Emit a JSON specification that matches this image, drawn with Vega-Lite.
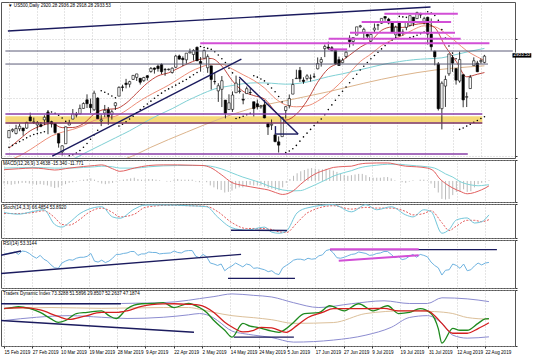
{
"$schema":"https://vega.github.io/schema/vega-lite/v6.json",
"padding":{"left":0,"top":1,"right":4,"bottom":0},
"background":"#ffffff",
"bounds":"flush",
"spacing":2,
"config":{"view":{"stroke":"#555555","strokeWidth":1},"axis":{"labelFont":"Liberation Sans","labelFontSize":4.6,"labelColor":"#000000","tickColor":"#333333","tickSize":2,"labelPadding":1,"labelOverlap":false,"labelBound":false,"gridColor":"#b5b5b5","gridDash":[1,2],"gridWidth":0.7,"domain":false,"zindex":1},"text":{"font":"Liberation Sans","fontSize":4.6,"color":"#000000"}},
"datasets":{
"ohlc":[
{"i":0,"o":2760.2,"h":2775.7,"l":2760.2,"c":2775.6},{"i":1,"o":2775,"h":2780,"l":2772,"c":2778},{"i":2,"o":2769.3,"h":2787.8,"l":2767.3,"c":2779.8},{"i":3,"o":2779.3,"h":2789.9,"l":2774.1,"c":2784.7},{"i":4,"o":2780.7,"h":2781.6,"l":2764.6,"c":2774.9},{"i":5,"o":2780.7,"h":2794.2,"l":2779.1,"c":2792.7},{"i":6,"o":2804.4,"h":2813.5,"l":2795,"c":2796.1},{"i":7,"o":2792.4,"h":2803.1,"l":2789.5,"c":2793.9},{"i":8,"o":2787.5,"h":2795.8,"l":2775.1,"c":2792.4},{"i":9,"o":2788.1,"h":2793.7,"l":2782.5,"c":2784.5},
{"i":10,"o":2798.2,"h":2808,"l":2787.4,"c":2803.7},{"i":11,"o":2814.4,"h":2816.9,"l":2767.7,"c":2792.8},{"i":12,"o":2794.4,"h":2796.4,"l":2782,"c":2789.7},{"i":13,"o":2790.3,"h":2790.3,"l":2768.7,"c":2771.5},{"i":14,"o":2768.7,"h":2769,"l":2739.2,"c":2748.9},{"i":15,"o":2730,"h":2744.1,"l":2722.3,"c":2743.1},{"i":16,"o":2747.6,"h":2784,"l":2747.6,"c":2783.3},{"i":17,"o":2787.3,"h":2798.3,"l":2786.7,"c":2791.5},{"i":18,"o":2799.8,"h":2821.2,"l":2799.8,"c":2810.9},{"i":19,"o":2810.4,"h":2815,"l":2803.5,"c":2808.5},
{"i":20,"o":2810.8,"h":2830.7,"l":2810.8,"c":2822.5},{"i":21,"o":2822.6,"h":2835.4,"l":2822,"c":2832.9},{"i":22,"o":2840.8,"h":2852.4,"l":2823.3,"c":2832.6},{"i":23,"o":2831.3,"h":2843.5,"l":2812.6,"c":2824.2},{"i":24,"o":2819.7,"h":2860.3,"l":2817.4,"c":2854.9},{"i":25,"o":2844.5,"h":2846.2,"l":2800.5,"c":2800.7},{"i":26,"o":2796,"h":2809.8,"l":2785,"c":2798.4},{"i":27,"o":2812.7,"h":2829.9,"l":2804,"c":2818.5},{"i":28,"o":2819.7,"h":2825.6,"l":2787.7,"c":2805.4},{"i":29,"o":2809.4,"h":2819.7,"l":2798.8,"c":2815.4},
{"i":30,"o":2828.3,"h":2836,"l":2819.2,"c":2834.4},{"i":31,"o":2848.6,"h":2869.4,"l":2848.6,"c":2867.2},{"i":32,"o":2868.2,"h":2872.9,"l":2858.8,"c":2867.2},{"i":33,"o":2876.1,"h":2885.3,"l":2865.2,"c":2873.4},{"i":34,"o":2874,"h":2881.3,"l":2867.1,"c":2879.4},{"i":35,"o":2884.2,"h":2893.2,"l":2883,"c":2892.7},{"i":36,"o":2888.5,"h":2896,"l":2880.8,"c":2895.8},{"i":37,"o":2886.6,"h":2886.9,"l":2873.3,"c":2878.2},{"i":38,"o":2881.4,"h":2889.7,"l":2879.1,"c":2888.2},{"i":39,"o":2891.9,"h":2893.4,"l":2882,"c":2888.3},
{"i":40,"o":2900.9,"h":2910.5,"l":2898.4,"c":2907.4},{"i":41,"o":2908.3,"h":2909.6,"l":2896.5,"c":2905.6},{"i":42,"o":2912.3,"h":2916.1,"l":2900.7,"c":2907.1},{"i":43,"o":2916,"h":2918,"l":2895.5,"c":2900.5},{"i":44,"o":2904.8,"h":2908.4,"l":2891.9,"c":2905},{"i":45,"o":2905,"h":2907,"l":2903,"c":2906},{"i":46,"o":2898.8,"h":2909.5,"l":2896.4,"c":2908},{"i":47,"o":2910,"h":2936.3,"l":2908.5,"c":2933.7},{"i":48,"o":2934,"h":2936.8,"l":2926.1,"c":2927.3},{"i":49,"o":2929,"h":2933.1,"l":2912.8,"c":2926.2},
{"i":50,"o":2925.8,"h":2939.9,"l":2917.6,"c":2939.9},{"i":51,"o":2940.6,"h":2949.5,"l":2939.4,"c":2943},{"i":52,"o":2937.1,"h":2948.2,"l":2924.1,"c":2945.8},{"i":53,"o":2952.3,"h":2954.1,"l":2923.4,"c":2923.7},{"i":54,"o":2922.2,"h":2931.7,"l":2900.5,"c":2917.5},{"i":55,"o":2929.2,"h":2947.9,"l":2929.2,"c":2945.6},{"i":56,"o":2908.9,"h":2937.3,"l":2898.2,"c":2932.5},{"i":57,"o":2913,"h":2913,"l":2862.6,"c":2884.1},{"i":58,"o":2879.6,"h":2898,"l":2873.3,"c":2879.4},{"i":59,"o":2859.8,"h":2876,"l":2836.4,"c":2870.7},
{"i":60,"o":2863.1,"h":2891.3,"l":2825.4,"c":2881.4},{"i":61,"o":2840.2,"h":2840.2,"l":2801.4,"c":2811.9},{"i":62,"o":2820.1,"h":2852.5,"l":2820.1,"c":2834.4},{"i":63,"o":2820.4,"h":2858.7,"l":2815.1,"c":2851},{"i":64,"o":2855.8,"h":2892.2,"l":2855.8,"c":2876.3},{"i":65,"o":2858.6,"h":2885.5,"l":2854.2,"c":2859.5},{"i":66,"o":2841.9,"h":2853.9,"l":2831.3,"c":2840.2},{"i":67,"o":2854,"h":2868.9,"l":2854,"c":2864.4},{"i":68,"o":2856.1,"h":2865.5,"l":2851.1,"c":2856.3},{"i":69,"o":2836.7,"h":2836.7,"l":2805.5,"c":2822.2},
{"i":70,"o":2832.4,"h":2841.4,"l":2820.2,"c":2826.1},{"i":71,"o":2826,"h":2830,"l":2822,"c":2828},{"i":72,"o":2830,"h":2840.5,"l":2801.6,"c":2802.4},{"i":73,"o":2790.3,"h":2792,"l":2766.1,"c":2783},{"i":74,"o":2786.9,"h":2799,"l":2776.7,"c":2788.9},{"i":75,"o":2766.2,"h":2769,"l":2750.5,"c":2752.1},{"i":76,"o":2751.5,"h":2763.1,"l":2728.8,"c":2744.5},{"i":77,"o":2762.6,"h":2804.5,"l":2762.6,"c":2803.3},{"i":78,"o":2818.1,"h":2827.3,"l":2800.9,"c":2826.2},{"i":79,"o":2828.5,"h":2852.1,"l":2822.5,"c":2843.5},
{"i":80,"o":2852.9,"h":2885,"l":2852.9,"c":2873.3},{"i":81,"o":2885.8,"h":2904.8,"l":2885.5,"c":2886.7},{"i":82,"o":2903.3,"h":2910.6,"l":2878.5,"c":2885.7},{"i":83,"o":2882.7,"h":2888.6,"l":2874.7,"c":2879.8},{"i":84,"o":2886.2,"h":2895.2,"l":2882,"c":2891.6},{"i":85,"o":2886.8,"h":2894.5,"l":2879.6,"c":2887},{"i":86,"o":2889.8,"h":2897.3,"l":2887.3,"c":2889.7},{"i":87,"o":2906.7,"h":2930.8,"l":2905.4,"c":2917.8},{"i":88,"o":2920.6,"h":2931.7,"l":2911.4,"c":2926.5},{"i":89,"o":2949.6,"h":2958.1,"l":2931.5,"c":2954.2},
{"i":90,"o":2952.7,"h":2964.2,"l":2946.9,"c":2950.5},{"i":91,"o":2951.4,"h":2954.9,"l":2944.1,"c":2945.4},{"i":92,"o":2945.8,"h":2946.5,"l":2916,"c":2917.4},{"i":93,"o":2926.1,"h":2932.6,"l":2913,"c":2913.8},{"i":94,"o":2919.7,"h":2929.3,"l":2918.6,"c":2924.9},{"i":95,"o":2932.9,"h":2944,"l":2929.1,"c":2941.8},{"i":96,"o":2971.4,"h":2977.9,"l":2952.2,"c":2964.3},{"i":97,"o":2964.7,"h":2973.2,"l":2955.9,"c":2973},{"i":98,"o":2978.1,"h":2995.8,"l":2978,"c":2995.8},{"i":99,"o":2996,"h":3000,"l":2994,"c":2998},
{"i":100,"o":2984.3,"h":2994,"l":2968,"c":2990.4},{"i":101,"o":2979.8,"h":2980.8,"l":2970.1,"c":2976},{"i":102,"o":2965.5,"h":2981.9,"l":2963.4,"c":2979.6},{"i":103,"o":2989.3,"h":3003,"l":2984.6,"c":2993.1},{"i":104,"o":2999.6,"h":3002.3,"l":2988.8,"c":2999.9},{"i":105,"o":3003.4,"h":3013.9,"l":3001.9,"c":3013.8},{"i":106,"o":3017.8,"h":3017.8,"l":3008.8,"c":3014.3},{"i":107,"o":3012.1,"h":3015,"l":3001.2,"c":3004},{"i":108,"o":3005.1,"h":3005.3,"l":2984.3,"c":2984.4},{"i":109,"o":2978.9,"h":2998.3,"l":2973.1,"c":2995.1},
{"i":110,"o":3004.3,"h":3006.5,"l":2975.9,"c":2976.6},{"i":111,"o":2981.9,"h":2990.7,"l":2976.7,"c":2985},{"i":112,"o":2994.7,"h":3005.9,"l":2988.6,"c":3005.5},{"i":113,"o":2998.8,"h":3019.6,"l":2996.8,"c":3019.6},{"i":114,"o":3016.3,"h":3016.3,"l":2997.2,"c":3003.7},{"i":115,"o":3013.3,"h":3028,"l":3012.6,"c":3025.9},{"i":116,"o":3024.5,"h":3025.6,"l":3014.3,"c":3021},{"i":117,"o":3007.7,"h":3017.2,"l":3000.9,"c":3013.2},{"i":118,"o":3016.2,"h":3017.4,"l":2958.1,"c":2980.4},{"i":119,"o":2980.3,"h":3013.6,"l":2945.2,"c":2953.6},
{"i":120,"o":2943.9,"h":2945.5,"l":2914.1,"c":2932},{"i":121,"o":2917,"h":2921,"l":2818,"c":2822},{"i":122,"o":2822,"h":2880,"l":2778,"c":2876},{"i":123,"o":2870,"h":2892.2,"l":2825.7,"c":2884},{"i":124,"o":2896.2,"h":2938.7,"l":2891.7,"c":2938.1},{"i":125,"o":2930.5,"h":2935.8,"l":2900.2,"c":2918.7},{"i":126,"o":2907.1,"h":2907.6,"l":2873.1,"c":2882.7},{"i":127,"o":2880.7,"h":2943.3,"l":2877.1,"c":2926.3},{"i":128,"o":2894.2,"h":2894.2,"l":2825,"c":2840.6},{"i":129,"o":2846.2,"h":2856.7,"l":2825.5,"c":2847.6},
{"i":130,"o":2864.7,"h":2893.6,"l":2864.7,"c":2888.7},{"i":131,"o":2913.5,"h":2931,"l":2913.5,"c":2923.7},{"i":132,"o":2919,"h":2923.6,"l":2899.6,"c":2900.5},{"i":133,"o":2922,"h":2928.7,"l":2917.9,"c":2924.4},{"i":134,"o":2920.3,"h":2936.3,"l":2918.3,"c":2933.5}
],
"ma":[
{"k":"f","i":0,"v":2738},{"k":"f","i":3,"v":2757},{"k":"f","i":6,"v":2775},{"k":"f","i":9,"v":2785.3},{"k":"f","i":12,"v":2790.5},{"k":"f","i":15,"v":2781.7},{"k":"f","i":18,"v":2782},{"k":"f","i":21,"v":2790.3},{"k":"f","i":24,"v":2810.4},{"k":"f","i":27,"v":2820.4},{"k":"f","i":30,"v":2821.7},{"k":"f","i":33,"v":2833.6},{"k":"f","i":36,"v":2855},{"k":"f","i":39,"v":2876.5},{"k":"f","i":42,"v":2891.6},{"k":"f","i":45,"v":2898.2},{"k":"f","i":48,"v":2908.9},{"k":"f","i":51,"v":2919.7},{"k":"f","i":54,"v":2927.1},{"k":"f","i":57,"v":2928.6},{"k":"f","i":60,"v":2912.4},{"k":"f","i":63,"v":2880.9},{"k":"f","i":66,"v":2858.9},{"k":"f","i":69,"v":2849.8},{"k":"f","i":72,"v":2842.6},{"k":"f","i":75,"v":2816.4},{"k":"f","i":78,"v":2797.7},{"k":"f","i":81,"v":2810.4},{"k":"f","i":84,"v":2838.7},{"k":"f","i":87,"v":2878.1},{"k":"f","i":90,"v":2907},{"k":"f","i":93,"v":2919.4},{"k":"f","i":96,"v":2935.7},{"k":"f","i":99,"v":2952.5},{"k":"f","i":102,"v":2965.8},{"k":"f","i":105,"v":2988.4},{"k":"f","i":108,"v":2995.4},{"k":"f","i":111,"v":2994.6},{"k":"f","i":114,"v":3000.2},{"k":"f","i":117,"v":3003},{"k":"f","i":120,"v":2994},{"k":"f","i":123,"v":2954},{"k":"f","i":126,"v":2922.9},{"k":"f","i":129,"v":2889.7},{"k":"f","i":132,"v":2895.1},{"k":"f","i":134,"v":2898.7},
{"k":"d","i":0,"v":2712},{"k":"d","i":3,"v":2722},{"k":"d","i":6,"v":2735},{"k":"d","i":9,"v":2750},{"k":"d","i":12,"v":2764},{"k":"d","i":15,"v":2772},{"k":"d","i":18,"v":2778},{"k":"d","i":21,"v":2786},{"k":"d","i":24,"v":2797},{"k":"d","i":27,"v":2802},{"k":"d","i":30,"v":2806},{"k":"d","i":33,"v":2818},{"k":"d","i":36,"v":2834},{"k":"d","i":39,"v":2848},{"k":"d","i":42,"v":2860},{"k":"d","i":45,"v":2872},{"k":"d","i":48,"v":2886},{"k":"d","i":51,"v":2900},{"k":"d","i":54,"v":2910},{"k":"d","i":57,"v":2916},{"k":"d","i":60,"v":2916},{"k":"d","i":63,"v":2906},{"k":"d","i":66,"v":2894},{"k":"d","i":69,"v":2882},{"k":"d","i":72,"v":2866},{"k":"d","i":75,"v":2844},{"k":"d","i":78,"v":2830},{"k":"d","i":81,"v":2826},{"k":"d","i":84,"v":2828},{"k":"d","i":87,"v":2838},{"k":"d","i":90,"v":2854},{"k":"d","i":93,"v":2874},{"k":"d","i":96,"v":2898},{"k":"d","i":99,"v":2922},{"k":"d","i":102,"v":2938},{"k":"d","i":105,"v":2956},{"k":"d","i":108,"v":2968},{"k":"d","i":111,"v":2978},{"k":"d","i":114,"v":2990},{"k":"d","i":117,"v":2998},{"k":"d","i":120,"v":2996},{"k":"d","i":123,"v":2982},{"k":"d","i":126,"v":2964},{"k":"d","i":129,"v":2945},{"k":"d","i":132,"v":2932},{"k":"d","i":134,"v":2924},
{"k":"c","i":0,"v":2690},{"k":"c","i":6,"v":2697},{"k":"c","i":12,"v":2705},{"k":"c","i":18,"v":2715},{"k":"c","i":22,"v":2730},{"k":"c","i":26,"v":2745},{"k":"c","i":30,"v":2760},{"k":"c","i":34,"v":2775},{"k":"c","i":38,"v":2792},{"k":"c","i":42,"v":2808},{"k":"c","i":46,"v":2822},{"k":"c","i":50,"v":2838},{"k":"c","i":54,"v":2852},{"k":"c","i":58,"v":2864},{"k":"c","i":62,"v":2870},{"k":"c","i":66,"v":2875},{"k":"c","i":70,"v":2877},{"k":"c","i":74,"v":2876},{"k":"c","i":78,"v":2874},{"k":"c","i":82,"v":2876},{"k":"c","i":86,"v":2882},{"k":"c","i":90,"v":2890},{"k":"c","i":94,"v":2896},{"k":"c","i":98,"v":2903},{"k":"c","i":102,"v":2910},{"k":"c","i":106,"v":2917},{"k":"c","i":110,"v":2922},{"k":"c","i":114,"v":2926},{"k":"c","i":118,"v":2928},{"k":"c","i":122,"v":2930},{"k":"c","i":126,"v":2937},{"k":"c","i":130,"v":2944},{"k":"c","i":134,"v":2950},
{"k":"L","i":0,"v":2640},{"k":"L","i":10,"v":2660},{"k":"L","i":20,"v":2685},{"k":"L","i":30,"v":2708},{"k":"L","i":35,"v":2722},{"k":"L","i":40,"v":2740},{"k":"L","i":50,"v":2772},{"k":"L","i":60,"v":2802},{"k":"L","i":70,"v":2826},{"k":"L","i":80,"v":2842},{"k":"L","i":90,"v":2858},{"k":"L","i":100,"v":2876},{"k":"L","i":110,"v":2892},{"k":"L","i":120,"v":2904},{"k":"L","i":130,"v":2911},{"k":"L","i":134,"v":2913}
],
"sar":[
{"i":0,"v":2740},{"i":1,"v":2744},{"i":2,"v":2748},{"i":3,"v":2752},{"i":4,"v":2756},{"i":5,"v":2760},{"i":6,"v":2764},{"i":7,"v":2767},{"i":8,"v":2769},{"i":9,"v":2771},{"i":10,"v":2773},
{"i":11,"v":2817},{"i":12,"v":2815},{"i":13,"v":2812},{"i":14,"v":2808},{"i":15,"v":2802},{"i":16,"v":2795},
{"i":17,"v":2722},{"i":18,"v":2724},{"i":19,"v":2728},{"i":20,"v":2733},{"i":21,"v":2740},{"i":22,"v":2748},{"i":23,"v":2757},{"i":24,"v":2766},{"i":25,"v":2776},
{"i":26,"v":2860},{"i":27,"v":2857},{"i":28,"v":2853},{"i":29,"v":2849},{"i":30,"v":2845},
{"i":31,"v":2785},{"i":32,"v":2789},{"i":33,"v":2794},{"i":34,"v":2800},{"i":35,"v":2806},{"i":36,"v":2813},{"i":37,"v":2820},{"i":38,"v":2826},{"i":39,"v":2832},{"i":40,"v":2838},{"i":41,"v":2844},{"i":42,"v":2850},{"i":43,"v":2855},{"i":44,"v":2860},{"i":45,"v":2864},{"i":46,"v":2868},{"i":47,"v":2872},{"i":48,"v":2876},{"i":49,"v":2880},{"i":50,"v":2884},{"i":51,"v":2889},{"i":52,"v":2894},{"i":53,"v":2899},
{"i":54,"v":2954},{"i":55,"v":2952},{"i":56,"v":2950},{"i":57,"v":2948},{"i":58,"v":2943},{"i":59,"v":2936},{"i":60,"v":2928},{"i":61,"v":2920},{"i":62,"v":2908},{"i":63,"v":2898},
{"i":64,"v":2801},{"i":65,"v":2803},{"i":66,"v":2806},{"i":67,"v":2809},{"i":68,"v":2812},
{"i":69,"v":2892},{"i":70,"v":2889},{"i":71,"v":2885},{"i":72,"v":2881},{"i":73,"v":2874},{"i":74,"v":2866},{"i":75,"v":2858},{"i":76,"v":2848},{"i":77,"v":2836},
{"i":78,"v":2729},{"i":79,"v":2732},{"i":80,"v":2737},{"i":81,"v":2744},{"i":82,"v":2753},{"i":83,"v":2762},{"i":84,"v":2770},{"i":85,"v":2778},{"i":86,"v":2786},{"i":87,"v":2793},{"i":88,"v":2800},{"i":89,"v":2809},{"i":90,"v":2820},{"i":91,"v":2830},{"i":92,"v":2840},{"i":93,"v":2850},{"i":94,"v":2859},{"i":95,"v":2868},{"i":96,"v":2877},{"i":97,"v":2886},{"i":98,"v":2895},{"i":99,"v":2904},{"i":100,"v":2912},{"i":101,"v":2920},{"i":102,"v":2928},{"i":103,"v":2935},{"i":104,"v":2942},{"i":105,"v":2949},{"i":106,"v":2956},{"i":107,"v":2962},{"i":108,"v":2968},{"i":109,"v":2973},
{"i":110,"v":3018},{"i":111,"v":3017},{"i":112,"v":3016},
{"i":113,"v":2973},{"i":114,"v":2975},{"i":115,"v":2978},{"i":116,"v":2981},{"i":117,"v":2985},
{"i":118,"v":3028},{"i":119,"v":3025},{"i":120,"v":3020},{"i":121,"v":3010},{"i":122,"v":2990},{"i":123,"v":2972},{"i":124,"v":2955},{"i":125,"v":2940},{"i":126,"v":2928},
{"i":127,"v":2778},{"i":128,"v":2781},{"i":129,"v":2785},{"i":130,"v":2789},{"i":131,"v":2793},{"i":132,"v":2797},{"i":133,"v":2801},{"i":134,"v":2805}
],
"band":[{"i":-1,"b":133.4,"p0":2793,"p1":2806}],
"seg":[
{"pn":"m","g":"tl1","t":"navy","i":-0.3,"v":2987},{"pn":"m","g":"tl1","t":"navy","i":118.8,"v":3038},
{"pn":"m","g":"tl2","t":"navy","i":12.2,"v":2721.4},{"pn":"m","g":"tl2","t":"navy","i":65.5,"v":2927.5},
{"pn":"m","g":"tl3","t":"navy","i":64.9,"v":2889.2},{"pn":"m","g":"tl3","t":"navy","i":81.5,"v":2768.1},
{"pn":"m","g":"tl4","t":"navy","i":75.1,"v":2768.1},{"pn":"m","g":"tl4","t":"navy","i":81.5,"v":2768.1},
{"pn":"m","g":"tl5","t":"navy","i":75.1,"v":2785},{"pn":"m","g":"tl5","t":"navy","i":75.1,"v":2768.1},
{"pn":"m","g":"h1","t":"gray","i":-1,"v":2944.5},{"pn":"m","g":"h1","t":"gray","i":142,"v":2944.5},
{"pn":"m","g":"h2","t":"gray","i":-1,"v":2916.8},{"pn":"m","g":"h2","t":"gray","i":135,"v":2916.8},
{"pn":"m","g":"p1","t":"purple","i":-1,"v":2810.6},{"pn":"m","g":"p1","t":"purple","i":133.4,"v":2810.6},
{"pn":"m","g":"p2","t":"dpurple","i":-1,"v":2791.5},{"pn":"m","g":"p2","t":"dpurple","i":133.4,"v":2791.5},
{"pn":"m","g":"p3","t":"purple","i":-1,"v":2725.6},{"pn":"m","g":"p3","t":"purple","i":129.3,"v":2725.6},
{"pn":"m","g":"m1","t":"magenta","i":105.8,"v":3023.8},{"pn":"m","g":"m1","t":"magenta","i":126.5,"v":3023.8},
{"pn":"m","g":"m2","t":"magenta","i":99.4,"v":3006},{"pn":"m","g":"m2","t":"magenta","i":124.6,"v":3006},
{"pn":"m","g":"m3","t":"magenta","i":96.1,"v":2983.4},{"pn":"m","g":"m3","t":"magenta","i":125.7,"v":2983.4},
{"pn":"m","g":"m4","t":"magenta","i":90.1,"v":2970.6},{"pn":"m","g":"m4","t":"magenta","i":127.3,"v":2970.6},
{"pn":"m","g":"m5","t":"magenta","i":53.9,"v":2960.8},{"pn":"m","g":"m5","t":"magenta","i":135.4,"v":2960.8},
{"pn":"m","g":"m6","t":"magenta","i":90.1,"v":2948},{"pn":"m","g":"m6","t":"magenta","i":95.3,"v":2948},
{"pn":"s","g":"s1","t":"navy","i":62.7,"v":23},{"pn":"s","g":"s1","t":"navy","i":78.2,"v":22},
{"pn":"r","g":"r1","t":"navy","i":-1,"v":68},{"pn":"r","g":"r1","t":"navy","i":4.7,"v":77},
{"pn":"r","g":"r2","t":"navy","i":-1,"v":30},{"pn":"r","g":"r2","t":"navy","i":65.5,"v":70},
{"pn":"r","g":"r3","t":"navy","i":61.9,"v":20},{"pn":"r","g":"r3","t":"navy","i":80.4,"v":20},
{"pn":"r","g":"r4","t":"navy","i":90.1,"v":80},{"pn":"r","g":"r4","t":"navy","i":136.2,"v":80},
{"pn":"r","g":"r5","t":"magenta","i":90.1,"v":80.6},{"pn":"r","g":"r5","t":"magenta","i":114.6,"v":80.6},
{"pn":"r","g":"r6","t":"magenta","i":92.5,"v":57},{"pn":"r","g":"r6","t":"magenta","i":114.6,"v":68},
{"pn":"t","g":"t1","t":"navy","i":-1,"v":70.7},{"pn":"t","g":"t1","t":"navy","i":32.3,"v":70.7},
{"pn":"t","g":"t2","t":"navy","i":-1,"v":50},{"pn":"t","g":"t2","t":"navy","i":52.5,"v":35.5},
{"pn":"t","g":"t3","t":"navy","i":63.5,"v":29.5},{"pn":"t","g":"t3","t":"navy","i":80.1,"v":29.5}
],
"ylab":[
{"pn":"m","b":"middle","v":3033.7,"t":"3033.70"},{"pn":"m","b":"middle","v":3002.2,"t":"3002.20"},{"pn":"m","b":"middle","v":2970.7,"t":"2970.70"},{"pn":"m","b":"middle","v":2939.55,"t":"2939.55"},{"pn":"m","b":"middle","v":2908.6,"t":"2908.60"},{"pn":"m","b":"middle","v":2877.1,"t":"2877.10"},{"pn":"m","b":"middle","v":2845.6,"t":"2845.60"},{"pn":"m","b":"middle","v":2815,"t":"2815.00"},{"pn":"m","b":"middle","v":2783.5,"t":"2783.50"},{"pn":"m","b":"middle","v":2752,"t":"2752.00"},{"pn":"m","b":"middle","v":2721.4,"t":"2721.40"},
{"pn":"a","b":"top","v":65.2,"t":"65.2"},{"pn":"a","b":"middle","v":0,"t":"0.00"},{"pn":"a","b":"bottom","v":-65.538,"t":"-65.538"},
{"pn":"s","b":"top","v":100,"t":"100"},{"pn":"s","b":"middle","v":80,"t":"80"},{"pn":"s","b":"middle","v":20,"t":"20"},{"pn":"s","b":"bottom","v":0,"t":"0"},
{"pn":"r","b":"top","v":100,"t":"100"},{"pn":"r","b":"middle","v":70,"t":"70"},{"pn":"r","b":"middle","v":30,"t":"30"},{"pn":"r","b":"bottom","v":0,"t":"0"},
{"pn":"t","b":"top","v":87.6204,"t":"87.6204"},{"pn":"t","b":"middle","v":68,"t":"68"},{"pn":"t","b":"middle","v":50,"t":"50"},{"pn":"t","b":"middle","v":32,"t":"32"},{"pn":"t","b":"bottom","v":18.5974,"t":"18.5974"}
],
"hist":[
{"i":0,"h":-8},{"i":1,"h":-10},{"i":2,"h":-12},{"i":3,"h":-10},{"i":4,"h":-8},{"i":5,"h":-6},{"i":6,"h":-6},{"i":7,"h":-8},{"i":8,"h":-10},{"i":9,"h":-12},{"i":10,"h":-10},
{"i":11,"h":-12},{"i":12,"h":-14},{"i":13,"h":-18},{"i":14,"h":-22},{"i":15,"h":-20},{"i":16,"h":-14},{"i":17,"h":-10},{"i":18,"h":-6},{"i":19,"h":-4},{"i":20,"h":-2},
{"i":21,"h":2},{"i":22,"h":4},{"i":23,"h":6},{"i":24,"h":8},{"i":25,"h":4},{"i":26,"h":-4},{"i":27,"h":-8},{"i":28,"h":-10},{"i":29,"h":-8},{"i":30,"h":-6},
{"i":31,"h":-2},{"i":32,"h":2},{"i":33,"h":4},{"i":34,"h":6},{"i":35,"h":8},{"i":36,"h":10},{"i":37,"h":6},{"i":38,"h":4},{"i":39,"h":4},{"i":40,"h":6},
{"i":41,"h":6},{"i":42,"h":4},{"i":43,"h":2},{"i":44,"h":0},{"i":45,"h":-2},{"i":46,"h":-2},{"i":47,"h":4},{"i":48,"h":6},{"i":49,"h":4},{"i":50,"h":4},
{"i":51,"h":4},{"i":52,"h":4},{"i":53,"h":-2},{"i":54,"h":-4},{"i":55,"h":0},{"i":56,"h":-4},{"i":57,"h":-14},{"i":58,"h":-20},{"i":59,"h":-26},{"i":60,"h":-28},
{"i":61,"h":-36},{"i":62,"h":-34},{"i":63,"h":-30},{"i":64,"h":-24},{"i":65,"h":-20},{"i":66,"h":-20},{"i":67,"h":-16},{"i":68,"h":-12},{"i":69,"h":-14},{"i":70,"h":-14},
{"i":71,"h":-14},{"i":72,"h":-18},{"i":73,"h":-22},{"i":74,"h":-24},{"i":75,"h":-28},{"i":76,"h":-30},{"i":77,"h":-20},{"i":78,"h":-6},{"i":79,"h":6},{"i":80,"h":16},
{"i":81,"h":24},{"i":82,"h":30},{"i":83,"h":34},{"i":84,"h":38},{"i":85,"h":40},{"i":86,"h":38},{"i":87,"h":36},{"i":88,"h":36},{"i":89,"h":38},{"i":90,"h":36},
{"i":91,"h":32},{"i":92,"h":28},{"i":93,"h":22},{"i":94,"h":18},{"i":95,"h":16},{"i":96,"h":18},{"i":97,"h":20},{"i":98,"h":22},{"i":99,"h":22},{"i":100,"h":18},
{"i":101,"h":12},{"i":102,"h":10},{"i":103,"h":10},{"i":104,"h":10},{"i":105,"h":12},{"i":106,"h":12},{"i":107,"h":8},{"i":108,"h":2},{"i":109,"h":0},{"i":110,"h":-4},
{"i":111,"h":-6},{"i":112,"h":-2},{"i":113,"h":2},{"i":114,"h":0},{"i":115,"h":4},{"i":116,"h":4},{"i":117,"h":2},{"i":118,"h":-8},{"i":119,"h":-22},{"i":120,"h":-36},
{"i":121,"h":-56},{"i":122,"h":-58},{"i":123,"h":-56},{"i":124,"h":-44},{"i":125,"h":-34},{"i":126,"h":-34},{"i":127,"h":-26},{"i":128,"h":-34},{"i":129,"h":-32},{"i":130,"h":-20},
{"i":131,"h":-10},{"i":132,"h":-6},{"i":133,"h":-2},{"i":134,"h":2}
],
"macd":[
{"i":0,"m":35,"s":40},{"i":4,"m":38,"s":41},{"i":8,"m":40,"s":42},{"i":11,"m":38,"s":41},{"i":14,"m":34,"s":40},{"i":18,"m":40,"s":40},{"i":22,"m":45,"s":42},{"i":25,"m":48,"s":44},{"i":27,"m":50,"s":46},{"i":30,"m":38,"s":44},{"i":32,"m":30,"s":40},{"i":36,"m":40,"s":40},{"i":40,"m":48,"s":44},{"i":44,"m":50,"s":47},{"i":48,"m":50,"s":48},{"i":52,"m":49,"s":48},{"i":55,"m":48,"s":48},{"i":57,"m":42,"s":46},{"i":60,"m":20,"s":38},{"i":63,"m":-5,"s":25},{"i":66,"m":-14,"s":12},{"i":68,"m":-18,"s":5},{"i":71,"m":-24,"s":-6},{"i":73,"m":-28,"s":-15},{"i":75,"m":-36,"s":-22},{"i":77,"m":-42,"s":-28},{"i":80,"m":-30,"s":-31},{"i":82,"m":-10,"s":-30},{"i":84,"m":8,"s":-22},{"i":86,"m":22,"s":-12},{"i":89,"m":35,"s":4},{"i":91,"m":42,"s":15},{"i":94,"m":45,"s":26},{"i":96,"m":46,"s":32},{"i":98,"m":52,"s":40},{"i":100,"m":55,"s":45},{"i":103,"m":56,"s":49},{"i":106,"m":56,"s":52},{"i":109,"m":50,"s":52},{"i":111,"m":46,"s":50},{"i":114,"m":44,"s":47},{"i":117,"m":40,"s":44},{"i":119,"m":28,"s":40},{"i":120,"m":12,"s":35},{"i":122,"m":-8,"s":22},{"i":124,"m":-22,"s":12},{"i":126,"m":-32,"s":-2},{"i":128,"m":-40,"s":-10},{"i":130,"m":-36,"s":-14},{"i":131,"m":-32,"s":-15},{"i":133,"m":-22,"s":-13},{"i":134,"m":-15.3,"s":-11.8}
],
"stoch":[
{"i":0,"k":75,"d":72},{"i":4,"k":70,"d":72},{"i":8,"k":78,"d":75},{"i":11,"k":83,"d":80},{"i":14,"k":40,"d":60},{"i":16,"k":32,"d":40},{"i":18,"k":45,"d":38},{"i":21,"k":72,"d":55},{"i":23,"k":83,"d":72},{"i":27,"k":92,"d":88},{"i":30,"k":62,"d":75},{"i":32,"k":58,"d":62},{"i":36,"k":85,"d":70},{"i":39,"k":97,"d":90},{"i":45,"k":97,"d":96},{"i":51,"k":95,"d":95},{"i":56,"k":92,"d":93},{"i":59,"k":62,"d":78},{"i":63,"k":30,"d":45},{"i":67,"k":23,"d":28},{"i":72,"k":32,"d":28},{"i":74,"k":17,"d":25},{"i":76,"k":14,"d":18},{"i":78,"k":20,"d":16},{"i":81,"k":74,"d":45},{"i":84,"k":89,"d":75},{"i":91,"k":98,"d":95},{"i":96,"k":77,"d":85},{"i":100,"k":98,"d":90},{"i":103,"k":83,"d":88},{"i":107,"k":92,"d":88},{"i":111,"k":68,"d":78},{"i":113,"k":62,"d":68},{"i":116,"k":83,"d":72},{"i":118,"k":78,"d":80},{"i":121,"k":14,"d":45},{"i":123,"k":25,"d":22},{"i":125,"k":53,"d":35},{"i":128,"k":59,"d":52},{"i":130,"k":44,"d":52},{"i":132,"k":48,"d":48},{"i":134,"k":68,"d":54}
],
"rsi":[
{"i":0,"v":70},{"i":1,"v":72},{"i":2,"v":73},{"i":3,"v":75},{"i":4,"v":70},{"i":5,"v":77},{"i":6,"v":76},{"i":7,"v":72},{"i":8,"v":66},{"i":9,"v":62},{"i":10,"v":68},{"i":11,"v":60},{"i":12,"v":56},{"i":13,"v":48},{"i":14,"v":42},{"i":15,"v":41},{"i":16,"v":52},{"i":17,"v":56},{"i":18,"v":59},{"i":19,"v":58},{"i":20,"v":62},{"i":21,"v":64},{"i":22,"v":64},{"i":23,"v":66},{"i":24,"v":72},{"i":25,"v":56},{"i":26,"v":54},{"i":27,"v":58},{"i":28,"v":53},{"i":29,"v":56},{"i":30,"v":62},{"i":31,"v":70},{"i":32,"v":70},{"i":33,"v":72},{"i":34,"v":73},{"i":35,"v":76},{"i":36,"v":76},{"i":37,"v":68},{"i":38,"v":71},{"i":39,"v":71},{"i":40,"v":75},{"i":41,"v":74},{"i":42,"v":74},{"i":43,"v":71},{"i":44,"v":72},{"i":46,"v":73},{"i":47,"v":77},{"i":48,"v":74},{"i":49,"v":73},{"i":50,"v":77},{"i":51,"v":78},{"i":52,"v":78},{"i":53,"v":66},{"i":54,"v":63},{"i":55,"v":70},{"i":56,"v":65},{"i":57,"v":52},{"i":58,"v":50},{"i":59,"v":47},{"i":60,"v":50},{"i":61,"v":36},{"i":62,"v":42},{"i":63,"v":46},{"i":64,"v":52},{"i":65,"v":48},{"i":66,"v":44},{"i":67,"v":50},{"i":68,"v":48},{"i":69,"v":41},{"i":70,"v":42},{"i":72,"v":38},{"i":73,"v":34},{"i":74,"v":36},{"i":75,"v":30},{"i":76,"v":28},{"i":77,"v":42},{"i":78,"v":47},{"i":79,"v":52},{"i":80,"v":58},{"i":81,"v":60},{"i":82,"v":60},{"i":83,"v":58},{"i":84,"v":62},{"i":85,"v":60},{"i":86,"v":61},{"i":87,"v":67},{"i":88,"v":69},{"i":89,"v":78},{"i":90,"v":80},{"i":91,"v":73},{"i":92,"v":63},{"i":93,"v":62},{"i":94,"v":64},{"i":95,"v":67},{"i":96,"v":70},{"i":97,"v":71},{"i":98,"v":75},{"i":100,"v":72},{"i":101,"v":68},{"i":102,"v":69},{"i":103,"v":72},{"i":104,"v":73},{"i":105,"v":76},{"i":106,"v":76},{"i":107,"v":70},{"i":108,"v":63},{"i":109,"v":66},{"i":110,"v":59},{"i":111,"v":61},{"i":112,"v":66},{"i":113,"v":70},{"i":114,"v":64},{"i":115,"v":70},{"i":116,"v":68},{"i":117,"v":65},{"i":118,"v":54},{"i":119,"v":47},{"i":120,"v":42},{"i":121,"v":27},{"i":122,"v":37},{"i":123,"v":38},{"i":124,"v":50},{"i":125,"v":47},{"i":126,"v":41},{"i":127,"v":50},{"i":128,"v":36},{"i":129,"v":38},{"i":130,"v":46},{"i":131,"v":52},{"i":132,"v":48},{"i":133,"v":52},{"i":134,"v":53.3}
],
"tdi":[
{"s":"up","i":0,"v":70.7},{"s":"up","i":13,"v":70.7},{"s":"up","i":27,"v":70.7},{"s":"up","i":38,"v":71.5},{"s":"up","i":44,"v":72},{"s":"up","i":51,"v":75},{"s":"up","i":54,"v":77},{"s":"up","i":58,"v":79.5},{"s":"up","i":63,"v":82.8},{"s":"up","i":69,"v":81},{"s":"up","i":74,"v":79},{"s":"up","i":80,"v":72},{"s":"up","i":87,"v":66},{"s":"up","i":96,"v":70.7},{"s":"up","i":105,"v":74.3},{"s":"up","i":112,"v":71},{"s":"up","i":117,"v":71},{"s":"up","i":121,"v":78},{"s":"up","i":128,"v":76.7},{"s":"up","i":134,"v":73.3},
{"s":"lo","i":0,"v":50},{"s":"lo","i":9,"v":54},{"s":"lo","i":18,"v":56},{"s":"lo","i":27,"v":54},{"s":"lo","i":34,"v":52.5},{"s":"lo","i":44,"v":54},{"s":"lo","i":51,"v":57},{"s":"lo","i":54,"v":58.6},{"s":"lo","i":58,"v":53},{"s":"lo","i":59,"v":50},{"s":"lo","i":63,"v":37},{"s":"lo","i":66,"v":34},{"s":"lo","i":69,"v":32},{"s":"lo","i":74,"v":29},{"s":"lo","i":80,"v":23.4},{"s":"lo","i":91,"v":25.9},{"s":"lo","i":100,"v":32},{"s":"lo","i":107,"v":41.6},{"s":"lo","i":112,"v":53.7},{"s":"lo","i":117,"v":56},{"s":"lo","i":121,"v":46.5},{"s":"lo","i":124,"v":32},{"s":"lo","i":128,"v":28.3},{"s":"lo","i":134,"v":29.9},
{"s":"mid","i":0,"v":64.6},{"s":"mid","i":13,"v":66},{"s":"mid","i":27,"v":65},{"s":"mid","i":44,"v":66},{"s":"mid","i":51,"v":66},{"s":"mid","i":54,"v":64},{"s":"mid","i":58,"v":60},{"s":"mid","i":63,"v":56},{"s":"mid","i":69,"v":53.5},{"s":"mid","i":74,"v":51},{"s":"mid","i":80,"v":46.5},{"s":"mid","i":91,"v":47.5},{"s":"mid","i":100,"v":58.6},{"s":"mid","i":111,"v":62},{"s":"mid","i":119,"v":61},{"s":"mid","i":124,"v":58.6},{"s":"mid","i":128,"v":53.7},{"s":"mid","i":134,"v":51.6},
{"s":"g","i":0,"v":64.6},{"s":"g","i":2,"v":66},{"s":"g","i":4,"v":67},{"s":"g","i":7,"v":65},{"s":"g","i":10,"v":60},{"s":"g","i":13,"v":52},{"s":"g","i":15,"v":47.7},{"s":"g","i":17,"v":50},{"s":"g","i":20,"v":58.6},{"s":"g","i":23,"v":60},{"s":"g","i":27,"v":62},{"s":"g","i":29,"v":56},{"s":"g","i":31,"v":52.5},{"s":"g","i":34,"v":64.6},{"s":"g","i":38,"v":70.7},{"s":"g","i":41,"v":71},{"s":"g","i":44,"v":72},{"s":"g","i":47,"v":66},{"s":"g","i":51,"v":71},{"s":"g","i":54,"v":66},{"s":"g","i":56,"v":60},{"s":"g","i":58,"v":50},{"s":"g","i":61,"v":38},{"s":"g","i":63,"v":29.5},{"s":"g","i":66,"v":46.5},{"s":"g","i":68,"v":43},{"s":"g","i":70,"v":41.6},{"s":"g","i":73,"v":38},{"s":"g","i":76,"v":35.5},{"s":"g","i":78,"v":40},{"s":"g","i":80,"v":47.7},{"s":"g","i":83,"v":58.6},{"s":"g","i":87,"v":59.8},{"s":"g","i":90,"v":68.2},{"s":"g","i":94,"v":62},{"s":"g","i":98,"v":70.7},{"s":"g","i":102,"v":62},{"s":"g","i":106,"v":68.2},{"s":"g","i":109,"v":58.6},{"s":"g","i":112,"v":60},{"s":"g","i":115,"v":64.6},{"s":"g","i":118,"v":58.6},{"s":"g","i":120,"v":40},{"s":"g","i":121,"v":22.2},{"s":"g","i":124,"v":40.4},{"s":"g","i":126,"v":38},{"s":"g","i":128,"v":38},{"s":"g","i":131,"v":46.5},{"s":"g","i":133,"v":52},{"s":"g","i":134,"v":52.3},
{"s":"r","i":0,"v":65},{"s":"r","i":5,"v":66},{"s":"r","i":10,"v":63},{"s":"r","i":15,"v":55},{"s":"r","i":18,"v":51.3},{"s":"r","i":22,"v":55},{"s":"r","i":27,"v":60},{"s":"r","i":31,"v":60},{"s":"r","i":34,"v":62},{"s":"r","i":38,"v":67.5},{"s":"r","i":44,"v":70.5},{"s":"r","i":47,"v":70.7},{"s":"r","i":51,"v":70},{"s":"r","i":54,"v":69},{"s":"r","i":58,"v":60},{"s":"r","i":61,"v":48},{"s":"r","i":63,"v":42},{"s":"r","i":66,"v":36},{"s":"r","i":69,"v":38},{"s":"r","i":71,"v":41.6},{"s":"r","i":74,"v":41},{"s":"r","i":78,"v":35.5},{"s":"r","i":81,"v":44},{"s":"r","i":84,"v":53.7},{"s":"r","i":88,"v":60},{"s":"r","i":91,"v":64.6},{"s":"r","i":100,"v":64.6},{"s":"r","i":105,"v":65},{"s":"r","i":109,"v":62},{"s":"r","i":117,"v":62},{"s":"r","i":119,"v":56},{"s":"r","i":121,"v":46.5},{"s":"r","i":124,"v":34.3},{"s":"r","i":128,"v":34.3},{"s":"r","i":131,"v":40},{"s":"r","i":134,"v":47.2}
]
},
"vconcat":[
{"width":514,"height":156,
"encoding":{"x":{"field":"i","type":"quantitative","title":null,"scale":{"domain":[-0.83,141.2],"nice":false,"zero":false},"axis":{"values":[0,7.818,15.636,23.454,31.272,39.09,46.908,54.726,62.544,70.362,78.18,85.998,93.816,101.634,109.452,117.27,125.088,132.906],"labels":false,"ticks":false,"grid":true}}},
"layer":[
{"data":{"name":"band"},"mark":{"type":"rect","color":"#f6d878","clip":true},
 "encoding":{"x2":{"field":"b"},
 "y":{"field":"p0","type":"quantitative","title":null,"scale":{"domain":[2717.2,3048.6],"nice":false,"zero":false},"axis":{"orient":"right","values":[3033.7,3002.2,2970.7,2939.55,2908.6,2877.1,2845.6,2815,2783.5,2752,2721.4],"format":".2f","labelColor":"transparent","labelOverlap":false,"grid":true}},"y2":{"field":"p1"}}},
{"data":{"name":"ma"},"transform":[{"filter":"datum.k=='L'"}],"mark":{"type":"line","color":"#dcb48c","strokeWidth":1,"interpolate":"monotone","clip":true},"encoding":{"y":{"field":"v","type":"quantitative","title":null}}},
{"data":{"name":"ma"},"transform":[{"filter":"datum.k=='c'"}],"mark":{"type":"line","color":"#7fd0d4","strokeWidth":1,"interpolate":"monotone","clip":true},"encoding":{"y":{"field":"v","type":"quantitative","title":null}}},
{"data":{"name":"ma"},"transform":[{"filter":"datum.k=='d'"}],"mark":{"type":"line","color":"#ee8f7a","strokeWidth":1,"interpolate":"monotone","clip":true},"encoding":{"y":{"field":"v","type":"quantitative","title":null}}},
{"data":{"name":"ma"},"transform":[{"filter":"datum.k=='f'"}],"mark":{"type":"line","color":"#b8342c","strokeWidth":0.9,"interpolate":"monotone","clip":true},"encoding":{"y":{"field":"v","type":"quantitative","title":null}}},
{"data":{"name":"ohlc"},"mark":{"type":"rule","color":"#000000","strokeWidth":0.8,"clip":true},"encoding":{"y":{"field":"l","type":"quantitative","title":null},"y2":{"field":"h"}}},
{"data":{"name":"ohlc"},"mark":{"type":"bar","size":2.4,"stroke":"#000000","strokeWidth":0.6,"clip":true},"encoding":{"y":{"field":"o","type":"quantitative","title":null},"y2":{"field":"c"},"fill":{"condition":{"test":"datum.c>=datum.o","value":"#ffffff"},"value":"#000000"}}},
{"data":{"name":"sar"},"mark":{"type":"circle","size":2.5,"color":"#000000","opacity":1,"clip":true},"encoding":{"y":{"field":"v","type":"quantitative","title":null}}},
{"data":{"name":"seg"},"transform":[{"filter":"datum.pn=='m' && datum.t=='gray'"}],"mark":{"type":"line","color":"#5c5c78","strokeWidth":1,"clip":true},"encoding":{"y":{"field":"v","type":"quantitative","title":null},"detail":{"field":"g"}}},
{"data":{"name":"seg"},"transform":[{"filter":"datum.pn=='m' && datum.t=='purple'"}],"mark":{"type":"line","color":"#8a3fa8","strokeWidth":1.4,"clip":true},"encoding":{"y":{"field":"v","type":"quantitative","title":null},"detail":{"field":"g"}}},
{"data":{"name":"seg"},"transform":[{"filter":"datum.pn=='m' && datum.t=='dpurple'"}],"mark":{"type":"line","color":"#7a2f5a","strokeWidth":1.4,"clip":true},"encoding":{"y":{"field":"v","type":"quantitative","title":null},"detail":{"field":"g"}}},
{"data":{"name":"seg"},"transform":[{"filter":"datum.pn=='m' && datum.t=='magenta'"}],"mark":{"type":"line","color":"#d24fd6","strokeWidth":2,"clip":true},"encoding":{"y":{"field":"v","type":"quantitative","title":null},"detail":{"field":"g"}}},
{"data":{"name":"seg"},"transform":[{"filter":"datum.pn=='m' && datum.t=='navy'"}],"mark":{"type":"line","color":"#1b1b5e","strokeWidth":1.4,"clip":true},"encoding":{"y":{"field":"v","type":"quantitative","title":null},"detail":{"field":"g"}}},
{"data":{"values":[{"i":-0.83,"v":3048.6,"t":"▼ US500,Daily  2920.28 2936.28 2918.28 2933.53"}]},"mark":{"type":"text","align":"left","baseline":"top","dx":2,"dy":1},"encoding":{"y":{"field":"v","type":"quantitative","title":null},"text":{"field":"t"}}},
{"data":{"name":"ylab"},"transform":[{"filter":"datum.pn=='m'"}],"mark":{"type":"text","align":"left","baseline":"middle","dx":3},"encoding":{"x":{"datum":141.2},"y":{"field":"v","type":"quantitative","title":null},"text":{"field":"t"}}},
{"data":{"values":[{"i":141.9,"b":147.2,"p0":2939.8,"p1":2930.5}]},"mark":{"type":"rect","color":"#000000"},"encoding":{"x2":{"field":"b"},"y":{"field":"p0","type":"quantitative","title":null},"y2":{"field":"p1"}}},
{"data":{"values":[{"i":141.9,"v":2935.1,"t":"2933.53"}]},"mark":{"type":"text","align":"left","baseline":"middle","dx":1,"color":"#ffffff"},"encoding":{"y":{"field":"v","type":"quantitative","title":null},"text":{"field":"t"}}}
]},
{"width":514,"height":42,
"encoding":{"x":{"field":"i","type":"quantitative","title":null,"scale":{"domain":[-0.83,141.2],"nice":false,"zero":false},"axis":{"values":[0,7.818,15.636,23.454,31.272,39.09,46.908,54.726,62.544,70.362,78.18,85.998,93.816,101.634,109.452,117.27,125.088,132.906],"labels":false,"ticks":false,"grid":true}}},
"layer":[
{"data":{"name":"hist"},"mark":{"type":"rule","color":"#a8a8a8","strokeWidth":0.8,"clip":true},"encoding":{"y":{"field":"h","type":"quantitative","title":null,"scale":{"domain":[-65.538,65.2],"nice":false,"zero":false},"axis":{"orient":"right","values":[65.2,0,-65.538],"labelExpr":"datum.value > 60 ? '-65.538' : (datum.value < -60 ? '-65.538' : '-65.538')","labelColor":"transparent","labelOverlap":false,"grid":true}},"y2":{"datum":0}}},
{"data":{"name":"macd"},"mark":{"type":"line","color":"#7fd3d8","strokeWidth":1,"interpolate":"monotone","clip":true},"encoding":{"y":{"field":"s","type":"quantitative","title":null}}},
{"data":{"name":"macd"},"mark":{"type":"line","color":"#e26060","strokeWidth":1,"interpolate":"monotone","clip":true},"encoding":{"y":{"field":"m","type":"quantitative","title":null}}},
{"data":{"values":[{"i":-0.83,"v":65.2,"t":"MACD(12,26,9) 3.4638 -15.340 -11.771"}]},"mark":{"type":"text","align":"left","baseline":"top","dx":2,"dy":1},"encoding":{"y":{"field":"v","type":"quantitative","title":null},"text":{"field":"t"}}},
{"data":{"name":"ylab"},"transform":[{"filter":"datum.pn=='a' && datum.b=='top'"}],"mark":{"type":"text","align":"left","baseline":"top","dx":3},"encoding":{"x":{"datum":141.2},"y":{"field":"v","type":"quantitative","title":null},"text":{"field":"t"}}},
{"data":{"name":"ylab"},"transform":[{"filter":"datum.pn=='a' && datum.b=='middle'"}],"mark":{"type":"text","align":"left","baseline":"middle","dx":3},"encoding":{"x":{"datum":141.2},"y":{"field":"v","type":"quantitative","title":null},"text":{"field":"t"}}},
{"data":{"name":"ylab"},"transform":[{"filter":"datum.pn=='a' && datum.b=='bottom'"}],"mark":{"type":"text","align":"left","baseline":"bottom","dx":3},"encoding":{"x":{"datum":141.2},"y":{"field":"v","type":"quantitative","title":null},"text":{"field":"t"}}}
]},
{"width":514,"height":34,
"encoding":{"x":{"field":"i","type":"quantitative","title":null,"scale":{"domain":[-0.83,141.2],"nice":false,"zero":false},"axis":{"values":[0,7.818,15.636,23.454,31.272,39.09,46.908,54.726,62.544,70.362,78.18,85.998,93.816,101.634,109.452,117.27,125.088,132.906],"labels":false,"ticks":false,"grid":true}}},
"layer":[
{"data":{"name":"stoch"},"mark":{"type":"line","color":"#e04848","strokeWidth":0.9,"strokeDash":[2,1.5],"interpolate":"monotone","clip":true},"encoding":{"y":{"field":"d","type":"quantitative","title":null,"scale":{"domain":[0,100],"nice":false,"zero":false},"axis":{"orient":"right","values":[100,80,20,0],"labelExpr":"'00000000'","labelColor":"transparent","labelOverlap":false,"grid":true}}}},
{"data":{"name":"stoch"},"mark":{"type":"line","color":"#72c6da","strokeWidth":1,"interpolate":"monotone","clip":true},"encoding":{"y":{"field":"k","type":"quantitative","title":null}}},
{"data":{"name":"seg"},"transform":[{"filter":"datum.pn=='s'"}],"mark":{"type":"line","color":"#1b1b5e","strokeWidth":1.4,"clip":true},"encoding":{"y":{"field":"v","type":"quantitative","title":null},"detail":{"field":"g"}}},
{"data":{"values":[{"i":-0.83,"v":100,"t":"Stoch(14,3,3) 66.4854 53.8920"}]},"mark":{"type":"text","align":"left","baseline":"top","dx":2,"dy":1},"encoding":{"y":{"field":"v","type":"quantitative","title":null},"text":{"field":"t"}}},
{"data":{"name":"ylab"},"transform":[{"filter":"datum.pn=='s' && datum.b=='top'"}],"mark":{"type":"text","align":"left","baseline":"top","dx":3},"encoding":{"x":{"datum":141.2},"y":{"field":"v","type":"quantitative","title":null},"text":{"field":"t"}}},
{"data":{"name":"ylab"},"transform":[{"filter":"datum.pn=='s' && datum.b=='middle'"}],"mark":{"type":"text","align":"left","baseline":"middle","dx":3},"encoding":{"x":{"datum":141.2},"y":{"field":"v","type":"quantitative","title":null},"text":{"field":"t"}}},
{"data":{"name":"ylab"},"transform":[{"filter":"datum.pn=='s' && datum.b=='bottom'"}],"mark":{"type":"text","align":"left","baseline":"bottom","dx":3},"encoding":{"x":{"datum":141.2},"y":{"field":"v","type":"quantitative","title":null},"text":{"field":"t"}}}
]},
{"width":514,"height":48,
"encoding":{"x":{"field":"i","type":"quantitative","title":null,"scale":{"domain":[-0.83,141.2],"nice":false,"zero":false},"axis":{"values":[0,7.818,15.636,23.454,31.272,39.09,46.908,54.726,62.544,70.362,78.18,85.998,93.816,101.634,109.452,117.27,125.088,132.906],"labels":false,"ticks":false,"grid":true}}},
"layer":[
{"data":{"name":"rsi"},"mark":{"type":"line","color":"#6fb3e0","strokeWidth":1,"clip":true},"encoding":{"y":{"field":"v","type":"quantitative","title":null,"scale":{"domain":[0,100],"nice":false,"zero":false},"axis":{"orient":"right","values":[100,70,30,0],"labelExpr":"'00000000'","labelColor":"transparent","labelOverlap":false,"grid":true}}}},
{"data":{"name":"seg"},"transform":[{"filter":"datum.pn=='r' && datum.t=='navy'"}],"mark":{"type":"line","color":"#1b1b5e","strokeWidth":1.4,"clip":true},"encoding":{"y":{"field":"v","type":"quantitative","title":null},"detail":{"field":"g"}}},
{"data":{"name":"seg"},"transform":[{"filter":"datum.pn=='r' && datum.t=='magenta'"}],"mark":{"type":"line","color":"#d24fd6","strokeWidth":2,"clip":true},"encoding":{"y":{"field":"v","type":"quantitative","title":null},"detail":{"field":"g"}}},
{"data":{"values":[{"i":-0.83,"v":100,"t":"RSI(14) 53.3144"}]},"mark":{"type":"text","align":"left","baseline":"top","dx":2,"dy":1},"encoding":{"y":{"field":"v","type":"quantitative","title":null},"text":{"field":"t"}}},
{"data":{"name":"ylab"},"transform":[{"filter":"datum.pn=='r' && datum.b=='top'"}],"mark":{"type":"text","align":"left","baseline":"top","dx":3},"encoding":{"x":{"datum":141.2},"y":{"field":"v","type":"quantitative","title":null},"text":{"field":"t"}}},
{"data":{"name":"ylab"},"transform":[{"filter":"datum.pn=='r' && datum.b=='middle'"}],"mark":{"type":"text","align":"left","baseline":"middle","dx":3},"encoding":{"x":{"datum":141.2},"y":{"field":"v","type":"quantitative","title":null},"text":{"field":"t"}}},
{"data":{"name":"ylab"},"transform":[{"filter":"datum.pn=='r' && datum.b=='bottom'"}],"mark":{"type":"text","align":"left","baseline":"bottom","dx":3},"encoding":{"x":{"datum":141.2},"y":{"field":"v","type":"quantitative","title":null},"text":{"field":"t"}}}
]},
{"width":514,"height":56,
"encoding":{"x":{"field":"i","type":"quantitative","title":null,"scale":{"domain":[-0.83,141.2],"nice":false,"zero":false},"axis":{"values":[0,7.818,15.636,23.454,31.272,39.09,46.908,54.726,62.544,70.362,78.18,85.998,93.816,101.634,109.452,117.27,125.088,132.906],"labelExpr":"['15 Feb 2019','27 Feb 2019','10 Mar 2019','19 Mar 2019','28 Mar 2019','9 Apr 2019','22 Apr 2019','2 May 2019','14 May 2019','24 May 2019','5 Jun 2019','17 Jun 2019','27 Jun 2019','9 Jul 2019','19 Jul 2019','31 Jul 2019','12 Aug 2019','22 Aug 2019'][round(datum.value/7.818)]","labelAlign":"left","labelOverlap":false,"labelFlush":false,"ticks":true,"tickSize":2,"labelPadding":1,"grid":true}}},
"layer":[
{"data":{"name":"tdi"},"transform":[{"filter":"datum.s=='up'"}],"mark":{"type":"line","color":"#8c8cd0","strokeWidth":1,"interpolate":"monotone","clip":true},"encoding":{"y":{"field":"v","type":"quantitative","title":null,"scale":{"domain":[18.5974,87.6204],"nice":false,"zero":false},"axis":{"orient":"right","values":[87.6204,68,50,32,18.5974],"labelExpr":"'00000000'","labelColor":"transparent","labelOverlap":false,"grid":true}}}},
{"data":{"name":"tdi"},"transform":[{"filter":"datum.s=='lo'"}],"mark":{"type":"line","color":"#8c8cd0","strokeWidth":1,"interpolate":"monotone","clip":true},"encoding":{"y":{"field":"v","type":"quantitative","title":null}}},
{"data":{"name":"tdi"},"transform":[{"filter":"datum.s=='mid'"}],"mark":{"type":"line","color":"#dcc09a","strokeWidth":1,"interpolate":"monotone","clip":true},"encoding":{"y":{"field":"v","type":"quantitative","title":null}}},
{"data":{"name":"seg"},"transform":[{"filter":"datum.pn=='t'"}],"mark":{"type":"line","color":"#1b1b5e","strokeWidth":1.4,"clip":true},"encoding":{"y":{"field":"v","type":"quantitative","title":null},"detail":{"field":"g"}}},
{"data":{"name":"tdi"},"transform":[{"filter":"datum.s=='g'"}],"mark":{"type":"line","color":"#1e8a1e","strokeWidth":1.3,"interpolate":"monotone","clip":true},"encoding":{"y":{"field":"v","type":"quantitative","title":null}}},
{"data":{"name":"tdi"},"transform":[{"filter":"datum.s=='r'"}],"mark":{"type":"line","color":"#d42020","strokeWidth":1.3,"interpolate":"monotone","clip":true},"encoding":{"y":{"field":"v","type":"quantitative","title":null}}},
{"data":{"values":[{"i":-0.83,"v":87.6204,"t":"Traders Dynamic Index 73.3288 51.5896 29.8507 52.2637 47.1874"}]},"mark":{"type":"text","align":"left","baseline":"top","dx":2,"dy":1},"encoding":{"y":{"field":"v","type":"quantitative","title":null},"text":{"field":"t"}}},
{"data":{"name":"ylab"},"transform":[{"filter":"datum.pn=='t' && datum.b=='top'"}],"mark":{"type":"text","align":"left","baseline":"top","dx":3},"encoding":{"x":{"datum":141.2},"y":{"field":"v","type":"quantitative","title":null},"text":{"field":"t"}}},
{"data":{"name":"ylab"},"transform":[{"filter":"datum.pn=='t' && datum.b=='middle'"}],"mark":{"type":"text","align":"left","baseline":"middle","dx":3},"encoding":{"x":{"datum":141.2},"y":{"field":"v","type":"quantitative","title":null},"text":{"field":"t"}}},
{"data":{"name":"ylab"},"transform":[{"filter":"datum.pn=='t' && datum.b=='bottom'"}],"mark":{"type":"text","align":"left","baseline":"bottom","dx":3},"encoding":{"x":{"datum":141.2},"y":{"field":"v","type":"quantitative","title":null},"text":{"field":"t"}}}
]}
]
}
